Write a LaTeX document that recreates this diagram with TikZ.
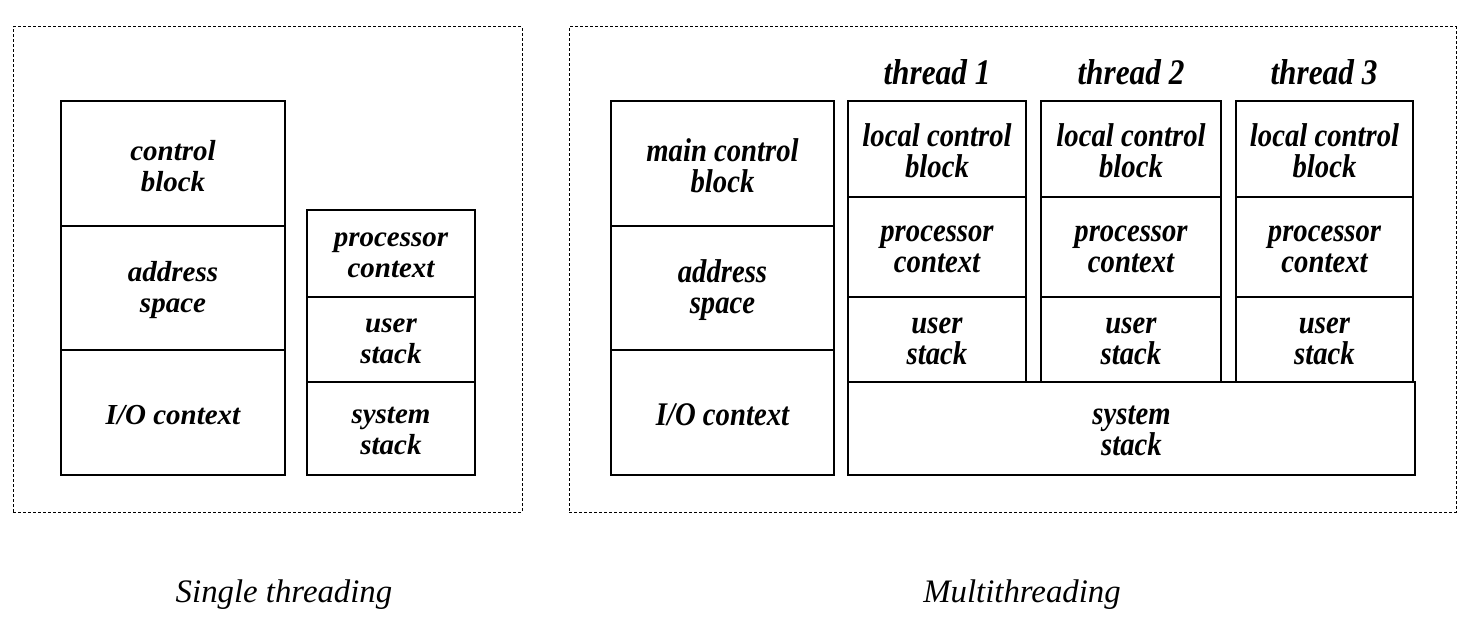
\documentclass[tikz,border=0pt]{standalone}
\usepackage{fontspec}
\setmainfont{Liberation Serif}
\newfontfamily\condfont[FakeStretch=0.87]{Liberation Serif}
\newcommand\cellbox[7]{% style, name, x1,y1,x2,y2, text
  \pgfmathsetmacro\cw{(#5-#3)*0.5}\pgfmathsetmacro\ch{(#6-#4)*0.5}
  \node[cellframe, minimum width=\cw pt, minimum height=\ch pt] (#2) at ({(#3+#5)/2},{(#4+#6)/2}) {};
  \node[#1, yshift=-1.1pt] (#2-t) at (#2.center) {#7};}
\newcommand\panelbox[5]{% name x1 y1 x2 y2
  \pgfmathsetmacro\cw{(#4-#2)*0.5}\pgfmathsetmacro\ch{(#5-#3)*0.5}
  \node[panel, minimum width=\cw pt, minimum height=\ch pt] (#1) at ({(#2+#4)/2},{(#3+#5)/2}) {};}
\begin{document}
\begin{tikzpicture}[x=0.5pt,y=-0.5pt,
  cellframe/.style={draw, line width=0.65pt, inner sep=0pt, outer sep=0pt},
  lcell/.style={inner sep=0pt, align=center,
     font=\fontsize{14.5}{15.5}\selectfont\bfseries\itshape},
  rcell/.style={inner sep=0pt, align=center,
     font=\condfont\fontsize{16.5}{15.5}\selectfont\bfseries\itshape},
  panel/.style={draw, line width=0.5pt, dash pattern=on 1.5pt off 1pt, inner sep=0pt, outer sep=0pt},
  thlabel/.style={font=\condfont\fontsize{18}{20}\selectfont\bfseries\itshape, inner sep=0pt},
  caption/.style={font=\fontsize{16.4}{18}\selectfont\itshape, inner sep=0pt}]
\useasboundingbox (0,0) rectangle (1471,631);
% panels
\panelbox{leftpanel}{13}{27}{522}{512}
\panelbox{rightpanel}{569}{27}{1456}{512}
% single threading
\cellbox{lcell}{cb}{61}{101}{285}{226}{control\\block}
\cellbox{lcell}{as}{61}{226}{285}{350}{address\\space}
\cellbox{lcell}{io}{61}{350}{285}{475}{I/O context}
\cellbox{lcell}{pc}{307}{210}{475}{297}{processor\\context}
\cellbox{lcell}{us}{307}{297}{475}{382}{user\\stack}
\cellbox{lcell}{ss}{307}{382}{475}{475}{system\\stack}
% multithreading
\cellbox{rcell}{mcb}{611}{101}{834}{226}{main control\\block}
\cellbox{rcell}{mas}{611}{226}{834}{350}{address\\space}
\cellbox{rcell}{mio}{611}{350}{834}{475}{I/O context}
\cellbox{rcell}{lcbA}{848}{101}{1026}{197}{local control\\block}
\cellbox{rcell}{pcA}{848}{197}{1026}{297}{processor\\context}
\cellbox{rcell}{usA}{848}{297}{1026}{382}{user\\stack}
\cellbox{rcell}{lcbB}{1041}{101}{1221}{197}{local control\\block}
\cellbox{rcell}{pcB}{1041}{197}{1221}{297}{processor\\context}
\cellbox{rcell}{usB}{1041}{297}{1221}{382}{user\\stack}
\cellbox{rcell}{lcbC}{1236}{101}{1413}{197}{local control\\block}
\cellbox{rcell}{pcC}{1236}{197}{1413}{297}{processor\\context}
\cellbox{rcell}{usC}{1236}{297}{1413}{382}{user\\stack}
\cellbox{rcell}{mss}{848}{382}{1415}{475}{system\\stack}
% thread labels
\node[thlabel] (t1) at (937,72) {thread 1};
\node[thlabel] (t2) at (1131,72) {thread 2};
\node[thlabel] (t3) at (1324,72) {thread 3};
% captions
\node[caption] (cap1) at (284,595) {Single threading};
\node[caption] (cap2) at (1022,595) {Multithreading};
\end{tikzpicture}
\end{document}
